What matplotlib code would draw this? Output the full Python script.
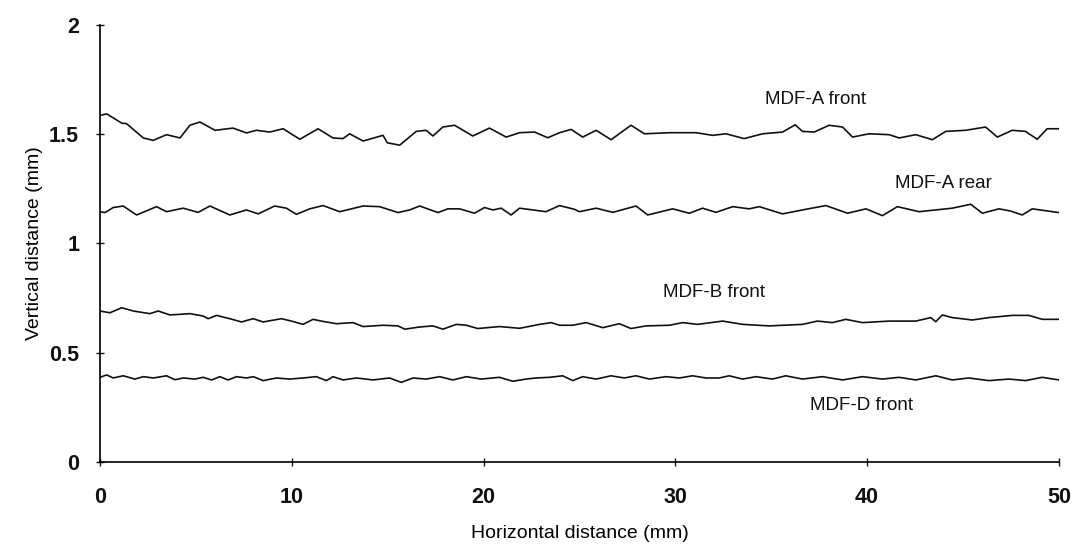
import matplotlib
matplotlib.use('Agg')
import numpy as np
from matplotlib import pyplot as plt
from matplotlib.ticker import FuncFormatter

# values (x in mm, y in mm)
a_front_x = [0, 0.35, 1.13, 1.39, 2.26, 2.78, 3.47, 4.17, 4.69, 5.21, 6.0, 6.94, 7.64, 8.16, 8.85,
             9.55, 10.42, 11.37, 12.15, 12.67, 13.02, 13.72, 14.76, 14.98, 15.63, 16.49, 17.01,
             17.36, 17.88, 18.49, 19.44, 20.31, 21.18, 21.88, 22.66, 23.35, 23.96, 24.57, 25.17,
             25.87, 26.65, 27.69, 28.39, 29.69, 31.08, 31.94, 32.64, 33.59, 34.55, 35.59, 36.25,
             36.63, 37.24, 38.02, 38.72, 39.24, 40.1, 41.15, 41.67, 42.54, 43.4, 44.1, 45.14,
             46.18, 46.79, 47.57, 48.26, 48.87, 49.39, 50.0]
a_front_y = [1.585, 1.592, 1.55, 1.547, 1.482, 1.471, 1.497, 1.482, 1.54, 1.555, 1.517, 1.527,
             1.505, 1.517, 1.509, 1.524, 1.476, 1.524, 1.482, 1.479, 1.501, 1.468, 1.494, 1.46,
             1.449, 1.512, 1.517, 1.491, 1.532, 1.54, 1.491, 1.527, 1.486, 1.506, 1.509, 1.483,
             1.506, 1.521, 1.486, 1.517, 1.474, 1.54, 1.501, 1.506, 1.506, 1.494, 1.501, 1.479,
             1.501, 1.509, 1.542, 1.512, 1.509, 1.54, 1.532, 1.486, 1.501, 1.497, 1.482, 1.497,
             1.474, 1.512, 1.517, 1.532, 1.486, 1.517, 1.512, 1.476, 1.524, 1.524]

a_rear_x = [0, 0.26, 0.69, 1.21, 1.91, 2.95, 3.47, 4.34, 5.12, 5.73, 6.77, 7.64, 8.25, 9.11, 9.72,
            10.24, 10.94, 11.63, 12.5, 13.72, 14.58, 15.54, 16.15, 16.67, 17.62, 18.14, 18.75,
            19.53, 20.05, 20.49, 20.92, 21.44, 21.88, 23.26, 23.96, 24.74, 25.0, 25.87, 26.74,
            27.95, 28.56, 29.86, 30.73, 31.42, 32.12, 32.99, 33.85, 34.38, 35.59, 36.63, 37.85,
            38.98, 39.94, 40.8, 41.58, 42.71, 43.58, 44.44, 45.4, 46.01, 46.88, 47.48, 48.09,
            48.61, 50.0]
a_rear_y = [1.145, 1.141, 1.164, 1.171, 1.13, 1.168, 1.145, 1.161, 1.142, 1.171, 1.13, 1.153,
            1.135, 1.171, 1.161, 1.133, 1.158, 1.173, 1.145, 1.171, 1.168, 1.141, 1.153, 1.171,
            1.141, 1.158, 1.158, 1.138, 1.164, 1.153, 1.161, 1.13, 1.161, 1.145, 1.173, 1.156,
            1.145, 1.161, 1.142, 1.171, 1.13, 1.158, 1.138, 1.161, 1.142, 1.168, 1.158, 1.168,
            1.135, 1.153, 1.173, 1.138, 1.158, 1.127, 1.168, 1.145, 1.153, 1.161, 1.179, 1.138,
            1.158, 1.148, 1.13, 1.158, 1.141]

b_front_x = [0, 0.52, 1.13, 1.74, 2.6, 3.04, 3.65, 4.69, 5.38, 5.64, 6.08, 6.77, 7.38, 7.99, 8.51,
             9.46, 9.98, 10.59, 11.11, 11.54, 12.33, 13.19, 13.72, 14.76, 15.54, 15.89, 16.67,
             17.36, 17.88, 18.58, 19.1, 19.7, 20.83, 21.88, 22.92, 23.53, 23.96, 24.65, 25.35,
             26.22, 27.08, 27.69, 28.47, 29.69, 30.38, 31.16, 32.47, 33.51, 34.9, 36.63, 37.41,
             38.19, 38.89, 39.76, 41.15, 42.54, 43.32, 43.58, 43.92, 44.44, 45.49, 46.35, 47.57,
             48.44, 49.13, 50.0]
b_front_y = [0.691, 0.683, 0.706, 0.691, 0.679, 0.691, 0.673, 0.679, 0.668, 0.656, 0.671, 0.656,
             0.641, 0.656, 0.641, 0.656, 0.645, 0.63, 0.653, 0.645, 0.633, 0.638, 0.62, 0.626,
             0.623, 0.608, 0.618, 0.623, 0.608, 0.63, 0.626, 0.611, 0.62, 0.612, 0.63, 0.638,
             0.626, 0.626, 0.638, 0.615, 0.633, 0.611, 0.623, 0.626, 0.638, 0.63, 0.645, 0.63,
             0.623, 0.63, 0.645, 0.638, 0.653, 0.638, 0.645, 0.645, 0.661, 0.642, 0.673, 0.661,
             0.65, 0.661, 0.671, 0.671, 0.653, 0.653]

d_front_x = [0, 0.35, 0.69, 1.21, 1.82, 2.26, 2.78, 3.47, 3.91, 4.34, 4.95, 5.38, 5.82, 6.25, 6.68,
             7.12, 7.64, 7.99, 8.51, 9.2, 9.9, 10.59, 11.28, 11.81, 12.15, 12.67, 13.37, 14.24,
             15.1, 15.71, 16.32, 17.01, 17.71, 18.4, 19.1, 19.88, 20.83, 21.53, 22.22, 22.74,
             23.44, 24.13, 24.65, 25.17, 25.87, 26.65, 27.34, 27.95, 28.65, 29.51, 30.21, 30.9,
             31.6, 32.29, 32.81, 33.51, 34.2, 35.07, 35.76, 36.63, 37.67, 38.72, 39.76, 40.8,
             41.67, 42.54, 43.58, 44.44, 45.31, 46.35, 47.4, 48.26, 49.13, 50.0]
d_front_y = [0.388, 0.399, 0.385, 0.395, 0.38, 0.391, 0.385, 0.395, 0.377, 0.385, 0.38, 0.388,
             0.376, 0.391, 0.376, 0.391, 0.385, 0.391, 0.373, 0.385, 0.38, 0.385, 0.391, 0.373,
             0.391, 0.376, 0.385, 0.376, 0.385, 0.365, 0.385, 0.38, 0.391, 0.376, 0.391, 0.38,
             0.388, 0.37, 0.38, 0.385, 0.388, 0.395, 0.373, 0.391, 0.38, 0.395, 0.385, 0.395,
             0.38, 0.391, 0.385, 0.395, 0.385, 0.385, 0.395, 0.38, 0.391, 0.38, 0.395, 0.38,
             0.391, 0.376, 0.391, 0.38, 0.388, 0.376, 0.395, 0.376, 0.385, 0.373, 0.38, 0.373,
             0.388, 0.376]

series_labels = ['MDF-A front', 'MDF-A rear', 'MDF-B front', 'MDF-D front']
label_x = [37.3, 44.0, 32.0, 39.7]
label_y = [1.66, 1.275, 0.775, 0.26]

x_ticks = [0, 10, 20, 30, 40, 50]
y_ticks = [0, 0.5, 1, 1.5, 2]

plt.rcParams['font.family'] = ['Liberation Sans', 'DejaVu Sans']

fig = plt.figure(figsize=(10.75, 5.47), dpi=100)
ax = fig.add_axes([0.093, 0.155, 0.892, 0.8])

for xs, ys in [(a_front_x, a_front_y), (a_rear_x, a_rear_y),
               (b_front_x, b_front_y), (d_front_x, d_front_y)]:
    ax.plot(xs, ys, color='#111111', lw=1.2)

for name, lx, ly in zip(series_labels, label_x, label_y):
    ax.text(lx, ly, name, ha='center', va='center', fontsize=13.5, color='#111111')

ax.set_xlim(0, 50)
ax.set_ylim(0, 2)
ax.set_xticks(x_ticks)
ax.set_yticks(y_ticks)
ax.yaxis.set_major_formatter(FuncFormatter(lambda v, p: '%g' % v))
ax.spines['top'].set_visible(False)
ax.spines['right'].set_visible(False)
ax.spines['left'].set_linewidth(1.2)
ax.spines['bottom'].set_linewidth(1.2)
ax.tick_params(axis='both', direction='inout', length=6, width=1, labelsize=15.5, colors='#111111')
ax.tick_params(axis='x', pad=15)
ax.tick_params(axis='y', pad=12)
for lab in ax.get_xticklabels() + ax.get_yticklabels():
    lab.set_fontweight('bold')

ax.set_xlabel('Horizontal distance (mm)', fontsize=14, labelpad=12)
ax.set_ylabel('Vertical distance (mm)', fontsize=14, labelpad=4)

fig.savefig('out.png', dpi=100)
